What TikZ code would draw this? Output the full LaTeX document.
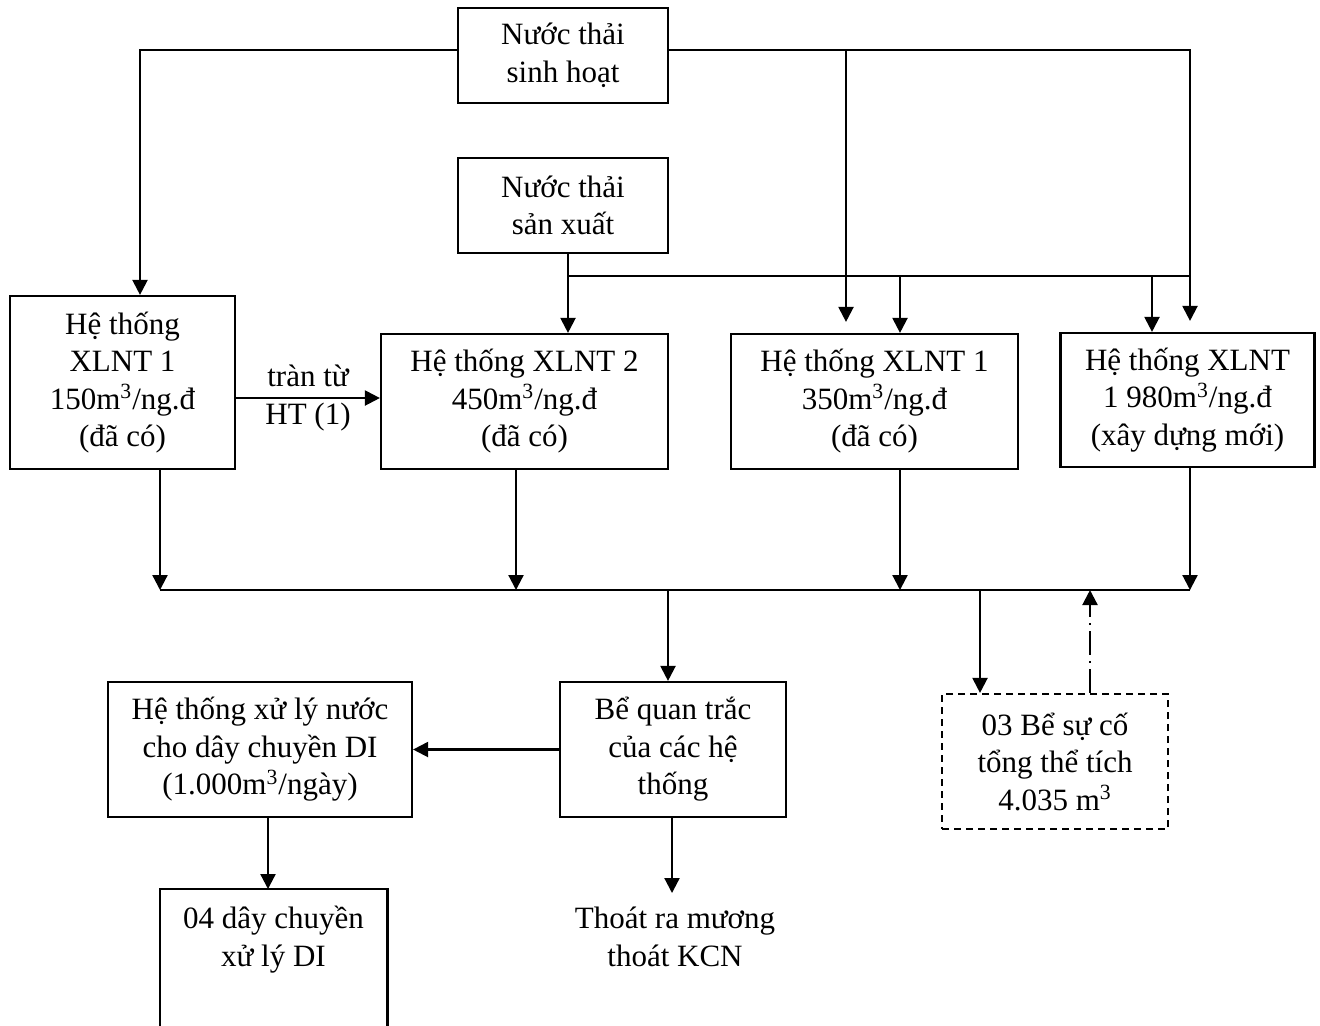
\documentclass[tikz,border=0pt]{standalone}
\usepackage{fontspec}
\setmainfont{Liberation Serif}
\usetikzlibrary{arrows.meta}
\begin{document}
\begin{tikzpicture}[x=0.5pt,y=-0.5pt,
  every node/.style={font=\fontsize{15.5}{18.75}\selectfont, align=center},
  box/.style={draw, line width=1.1pt, inner sep=0pt},
  flow/.style={line width=1.1pt},
  arr/.style={flow, -{Triangle[length=7.5pt,width=7.5pt]}},
  dashbox/.style={box, dash pattern=on 3.5pt off 2.5pt},
  dashdot/.style={arr, dash pattern=on 12pt off 3pt on 1pt off 3pt}]
\useasboundingbox (0,0) rectangle (1320,1025);

% sources
\node[box, minimum width=105pt, minimum height=47.5pt] (sh) at (563,55.5) {Nước thải\\sinh hoạt};
\node[box, minimum width=105pt, minimum height=47.5pt] (sx) at (563,205.5) {Nước thải\\sản xuất};

% treatment plants
\node[box, minimum width=112.5pt, minimum height=86.5pt] (h1) at (122.5,382.5)
  {Hệ thống\\XLNT 1\\150m\textsuperscript{3}/ng.đ\\(đã có)};
\node[box, minimum width=143.5pt, minimum height=67.5pt] (h2) at (524.5,401.5)
  {Hệ thống XLNT 2\\450m\textsuperscript{3}/ng.đ\\(đã có)};
\node[box, minimum width=143.5pt, minimum height=67.5pt] (h3) at (874.5,401.5)
  {Hệ thống XLNT 1\\350m\textsuperscript{3}/ng.đ\\(đã có)};
\node[box, minimum width=127pt, minimum height=67pt] (h4) at (1187.5,400)
  {Hệ thống XLNT\\1 980m\textsuperscript{3}/ng.đ\\(xây dựng mới)};

% downstream
\node[box, minimum width=113pt, minimum height=67.5pt] (qt) at (673,749.5)
  {Bể quan trắc\\của các hệ\\thống};
\node[box, minimum width=152pt, minimum height=67.5pt] (di) at (260,749.5)
  {Hệ thống xử lý nước\\cho dây chuyền DI\\(1.000m\textsuperscript{3}/ngày)};
\node[dashbox, minimum width=113pt, minimum height=67.5pt] (sc) at (1055,761.5)
  {03 Bể sự cố\\tổng thể tích\\4.035 m\textsuperscript{3}};
\node[anchor=north, minimum width=113.5pt, inner xsep=0pt, inner ysep=8.5pt] (di4) at (273.5,889)
  {04 dây chuyền\\xử lý DI};
\node[anchor=north, inner sep=0pt] (out) at (675,907) {Thoát ra mương\\thoát KCN};

% helper coordinates
\coordinate (y50) at (0,50);
\coordinate (shM) at (846,50);
\coordinate (shR) at (1190,50);
\coordinate (sxJ) at (568,276);
\coordinate (sxA) at (900,276);
\coordinate (sxB) at (1152,276);
\coordinate (sxR) at (1190,276);
\coordinate (tr) at (0,398);
\coordinate (cL) at (160,590);
\coordinate (c2) at (516,590);
\coordinate (c3) at (900,590);
\coordinate (cR) at (1190,590);
\coordinate (cQ) at (668,590);
\coordinate (cS) at (980,590);
\coordinate (cD) at (1090,590);
\coordinate (xd) at (268,0);
\coordinate (xo) at (672,0);
\coordinate (bot) at (0,1026);

% domestic wastewater
\draw[arr] (sh.west |- y50) -| (h1.north -| 140,0);
\draw[arr, shorten >=5.5pt] (sh.east |- y50) -| (h4.north -| shR);
\draw[arr, shorten >=5.5pt] (shM) -- (h3.north -| shM);

% production wastewater
\draw[flow] (sx.south -| sxJ) -- (sxJ) -- (sxR);
\draw[arr] (sxJ) -- (h2.north -| sxJ);
\draw[arr] (sxA) -- (h3.north -| sxA);
\draw[arr] (sxB) -- (h4.north -| sxB);

% overflow
\draw[arr] (h1.east |- tr) -- (h2.west |- tr) node[midway] {tràn từ\\HT (1)};

% collector
\draw[flow] (cL) -- (cR);
\draw[arr] (h1.south -| cL) -- (cL);
\draw[arr] (h2.south -| c2) -- (c2);
\draw[arr] (h3.south -| c3) -- (c3);
\draw[arr] (h4.south -| cR) -- (cR);
\draw[arr] (cQ) -- (qt.north -| cQ);
\draw[arr] (cS) -- (sc.north -| cS);
\draw[dashdot] (sc.north -| cD) -- (cD);

% monitoring tank outputs
\draw[arr] (qt.west) -- (di.east);
\draw[arr] (di.south -| xd) -- (di4.north -| xd);
\draw[arr] (qt.south -| xo) -- ([yshift=7pt]out.north -| xo);
\draw[flow] (di4.west |- bot) -- (di4.north west) -- (di4.north east) -- (di4.east |- bot);
\end{tikzpicture}
\end{document}
